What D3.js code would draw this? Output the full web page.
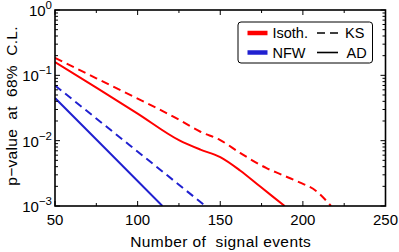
<!DOCTYPE html>
<html>
<head>
<meta charset="utf-8">
<script src="https://cdn.jsdelivr.net/npm/d3@7"></script>
<style>
  body { margin: 0; background: #fff; }
  text { font-family: "Liberation Sans", Arial, sans-serif; fill: #000; }
</style>
</head>
<body>
<svg id="chart" width="399" height="252"></svg>
<script>
// data: number of signal events vs p-value
var isoAD_n = [50, 75, 100, 125, 138, 150, 162, 174, 182, 189];
var isoAD_p = [0.16, 0.065, 0.026, 0.0102, 0.0073, 0.0056, 0.0035, 0.002, 0.00138, 0.001];
var isoKS_n = [50, 75, 100, 125, 138, 150, 162, 178, 186, 198, 208, 217];
var isoKS_p = [0.185, 0.09, 0.044, 0.021, 0.0137, 0.0102, 0.0065, 0.0038, 0.0031, 0.0023, 0.0017, 0.001];
var nfwAD_n = [50, 80, 115];
var nfwAD_p = [0.045, 0.0078, 0.001];
var nfwKS_n = [50, 95, 141];
var nfwKS_p = [0.07, 0.0086, 0.001];

var xTicks = [50, 100, 150, 200, 250];
var xMinor = [75, 125, 175, 225];
var yExp = [0, -1, -2, -3];

var margin = {left: 55, right: 13.5, top: 10, bottom: 46};
var W = 399, H = 252;
var svg = d3.select("#chart");

var x = d3.scaleLinear().domain([50, 250]).range([margin.left, W - margin.right]);
var y = d3.scaleLog().domain([0.001, 1]).range([H - margin.bottom, margin.top]);

var line = d3.line().x(function(d) { return x(d[0]); }).y(function(d) { return y(d[1]); })
  .curve(d3.curveMonotoneX);
svg.append("clipPath").attr("id", "pl").append("rect")
  .attr("x", margin.left).attr("y", margin.top)
  .attr("width", x(250) - x(50)).attr("height", y(0.001) - y(1));

var series = [
  {n: isoKS_n, p: isoKS_p, c: "#ff0000", dash: "8,5"},
  {n: isoAD_n, p: isoAD_p, c: "#ff0000", dash: null},
  {n: nfwKS_n, p: nfwKS_p, c: "#2020d0", dash: "8,5"},
  {n: nfwAD_n, p: nfwAD_p, c: "#2020d0", dash: null}
];
var g = svg.append("g").attr("clip-path", "url(#pl)");
series.forEach(function(s) {
  g.append("path")
    .datum(d3.zip(s.n, s.p))
    .attr("d", line)
    .attr("fill", "none")
    .attr("stroke", s.c)
    .attr("stroke-width", 2)
    .attr("stroke-dasharray", s.dash);
});

// ticks, inward on all four sides
var tk = svg.append("g").attr("stroke", "#000").attr("stroke-width", 1);
var x0 = x(50), x1 = x(250), y0 = y(0.001), y1 = y(1);
xTicks.concat(xMinor).forEach(function(v) {
  var len = xMinor.indexOf(v) >= 0 ? 3 : 5;
  tk.append("line").attr("x1", x(v)).attr("x2", x(v)).attr("y1", y0).attr("y2", y0 - len);
  tk.append("line").attr("x1", x(v)).attr("x2", x(v)).attr("y1", y1).attr("y2", y1 + len);
});
yExp.forEach(function(e) {
  for (var k = 1; k <= 9; k++) {
    var v = k * Math.pow(10, e);
    if (v > 1 || (e === 0 && k > 1)) continue;
    var len = k === 1 ? 5 : 3;
    tk.append("line").attr("x1", x0).attr("x2", x0 + len).attr("y1", y(v)).attr("y2", y(v));
    tk.append("line").attr("x1", x1).attr("x2", x1 - len).attr("y1", y(v)).attr("y2", y(v));
  }
});

svg.append("rect").attr("x", x0).attr("y", y1).attr("width", x1 - x0).attr("height", y0 - y1)
  .attr("fill", "none").attr("stroke", "#000").attr("stroke-width", 1.6);

// tick labels
svg.selectAll(".xl").data(xTicks).enter().append("text")
  .attr("x", function(d) { return x(d); }).attr("y", y0 + 19)
  .attr("text-anchor", "middle").attr("font-size", 15).text(function(d) { return d; });

yExp.forEach(function(e) {
  var t = svg.append("text").attr("x", x0 - 3).attr("y", y(Math.pow(10, e)) + 6)
    .attr("text-anchor", "end").attr("font-size", 15);
  t.append("tspan").text("10");
  t.append("tspan").attr("dy", -7).attr("font-size", 11.5).text(e === 0 ? "0" : "\u2212" + (-e));
});

svg.append("text").attr("x", (x0 + x1) / 2 + 0.5).attr("y", 247)
  .attr("text-anchor", "middle").attr("font-size", 15.5).attr("letter-spacing", 0.4)
  .attr("xml:space", "preserve")
  .text("Number of  signal events");
svg.append("text").attr("transform", "translate(17," + ((y0 + y1) / 2 - 2) + ") rotate(-90)")
  .attr("text-anchor", "middle").attr("font-size", 15.5).attr("letter-spacing", 0.3)
  .attr("xml:space", "preserve")
  .text("p\u2212value  at  68%  C.L.");

// legend
var lg = svg.append("g");
lg.append("rect").attr("x", 238).attr("y", 22).attr("width", 134.5).attr("height", 41)
  .attr("rx", 3).attr("fill", "#fff").attr("stroke", "#000").attr("stroke-width", 1);
var leg = [
  {c: "#ff0000", name: "Isoth.", dash: "8,5", lab: "KS", lx: 345},
  {c: "#2020d0", name: "NFW", dash: null, lab: "AD", lx: 346.5}
];
leg.forEach(function(d, i) {
  var yy = 33 + i * 19.5;
  lg.append("line").attr("x1", 247.5).attr("x2", 267.5).attr("y1", yy).attr("y2", yy)
    .attr("stroke", d.c).attr("stroke-width", 4.5);
  lg.append("text").attr("x", 272.5).attr("y", yy + 5).attr("font-size", 14.5).text(d.name);
  lg.append("line").attr("x1", 317).attr("x2", 338).attr("y1", yy).attr("y2", yy)
    .attr("stroke", "#000").attr("stroke-width", 1.6).attr("stroke-dasharray", d.dash);
  lg.append("text").attr("x", d.lx).attr("y", yy + 5).attr("font-size", 14.5).text(d.lab);
});
</script>
</body>
</html>
